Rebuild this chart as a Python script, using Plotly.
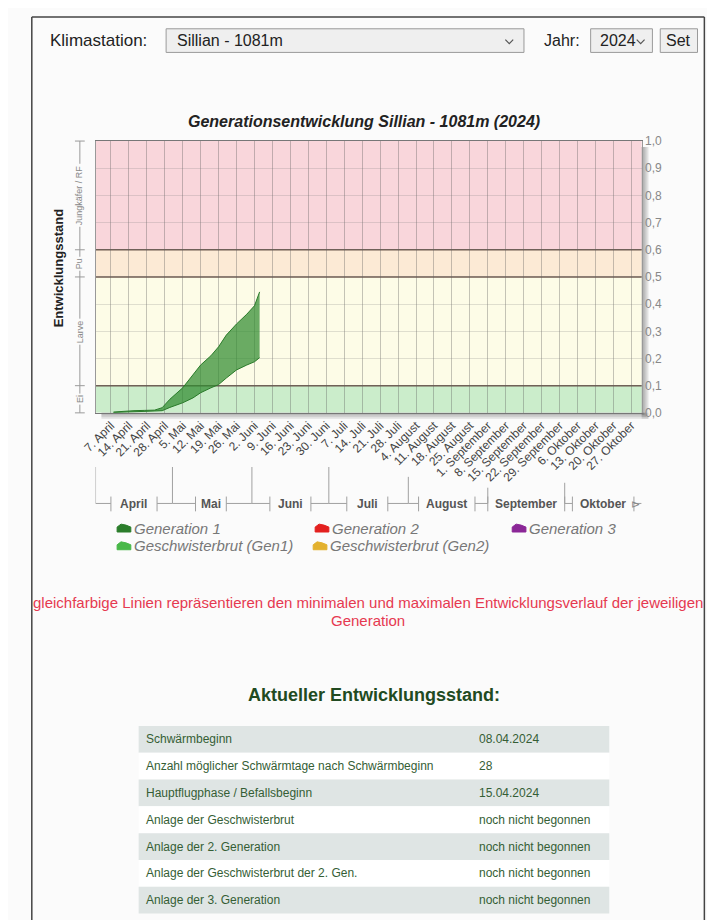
import plotly.graph_objects as go
from datetime import date, timedelta

# ---------------- data ----------------
tick_dates = ['2024-04-07', '2024-04-14', '2024-04-21', '2024-04-28', '2024-05-05', '2024-05-12',
              '2024-05-19', '2024-05-26', '2024-06-02', '2024-06-09', '2024-06-16', '2024-06-23',
              '2024-06-30', '2024-07-07', '2024-07-14', '2024-07-21', '2024-07-28', '2024-08-04',
              '2024-08-11', '2024-08-18', '2024-08-25', '2024-09-01', '2024-09-08', '2024-09-15',
              '2024-09-22', '2024-09-29', '2024-10-06', '2024-10-13', '2024-10-20', '2024-10-27']
tick_labels = ['7. April', '14. April', '21. April', '28. April', '5. Mai', '12. Mai', '19. Mai',
               '26. Mai', '2. Juni', '9. Juni', '16. Juni', '23. Juni', '30. Juni', '7. Juli',
               '14. Juli', '21. Juli', '28. Juli', '4. August', '11. August', '18. August',
               '25. August', '1. September', '8. September', '15. September', '22. September',
               '29. September', '6. Oktober', '13. Oktober', '20. Oktober', '27. Oktober']
y_ticks = [0.0, 0.1, 0.2, 0.3, 0.4, 0.5, 0.6, 0.7, 0.8, 0.9, 1.0]
y_tick_labels = ['0,0', '0,1', '0,2', '0,3', '0,4', '0,5', '0,6', '0,7', '0,8', '0,9', '1,0']

months = ['April', 'Mai', 'Juni', 'Juli', 'August', 'September', 'Oktober']
month_starts = ['2024-04-01', '2024-05-01', '2024-06-01', '2024-07-01', '2024-08-01', '2024-09-01', '2024-10-01']
month_ends = ['2024-05-01', '2024-06-01', '2024-07-01', '2024-08-01', '2024-09-01', '2024-10-01', '2024-10-31']

gen1_dates = ['2024-04-08', '2024-04-12', '2024-04-16', '2024-04-20', '2024-04-24', '2024-04-27',
              '2024-04-30', '2024-05-05', '2024-05-09', '2024-05-12', '2024-05-16', '2024-05-19',
              '2024-05-22', '2024-05-26', '2024-05-30', '2024-06-02', '2024-06-04']
gen1_max = [0.003, 0.006, 0.008, 0.009, 0.010, 0.019, 0.050, 0.092, 0.140, 0.176, 0.210, 0.243,
            0.286, 0.327, 0.363, 0.394, 0.445]
gen1_min = [0.001, 0.002, 0.003, 0.004, 0.005, 0.008, 0.020, 0.037, 0.055, 0.074, 0.092, 0.104,
            0.128, 0.158, 0.176, 0.188, 0.203]

stages = ['Ei', 'Larve', 'Pu', 'Jungkäfer / RF']
stage_bounds = [0.0, 0.1, 0.5, 0.6, 1.0]
stage_colors = ['#cbedcb', '#fdfce7', '#fcead5', '#f9d6db']

legend_names = ['Generation 1', 'Generation 2', 'Generation 3', 'Geschwisterbrut (Gen1)', 'Geschwisterbrut (Gen2)']
legend_colors = ['#2b7d2b', '#e3201f', '#8b2797', '#48b848', '#e3b12e']

table_labels = ['Schwärmbeginn', 'Anzahl möglicher Schwärmtage nach Schwärmbeginn',
                'Hauptflugphase / Befallsbeginn', 'Anlage der Geschwisterbrut',
                'Anlage der 2. Generation', 'Anlage der Geschwisterbrut der 2. Gen.',
                'Anlage der 3. Generation']
table_values = ['08.04.2024', '28', '15.04.2024', 'noch nicht begonnen', 'noch nicht begonnen',
                'noch nicht begonnen', 'noch nicht begonnen']

# ---------------- helpers ----------------
OFF = 8                      # default body margin of the html page
W, H = 715, 920
PL, PR, PT, PB = 83, 640, 136, 412   # plot area in window pixels
FONT = 'Arial, Liberation Sans, sans-serif'
BG = '#fbfbfb'


def X(x):
    return (x - OFF) / W


def Y(y):
    return 1 - (y - OFF) / H


shapes = []
annotations = []


def text(x, y, s, size=12, color='#222', xanchor='left', yanchor='middle', angle=0, **kw):
    annotations.append(dict(x=X(x), y=Y(y), xref='paper', yref='paper', text=s, showarrow=False,
                            xanchor=xanchor, yanchor=yanchor, textangle=angle,
                            font=dict(size=size, color=color, family=FONT), **kw))


def rect(x0, y0, x1, y1, fill, line=None, lw=1, layer='above'):
    shapes.append(dict(type='rect', xref='paper', yref='paper', x0=X(x0), x1=X(x1), y0=Y(y0), y1=Y(y1),
                       fillcolor=fill, line=dict(color=line or 'rgba(0,0,0,0)', width=lw if line else 0),
                       layer=layer))


def line(x0, y0, x1, y1, color='#999', lw=1):
    shapes.append(dict(type='line', xref='paper', yref='paper', x0=X(x0), x1=X(x1), y0=Y(y0), y1=Y(y1),
                       line=dict(color=color, width=lw)))


def chevron(cx, cy, color='#555'):
    shapes.append(dict(type='path', xref='paper', yref='paper',
                       path=f'M {X(cx-4)} {Y(cy-2)} L {X(cx)} {Y(cy+2)} L {X(cx+4)} {Y(cy-2)}',
                       line=dict(color=color, width=1.2)))


# ---------------- figure ----------------
fig = go.Figure()
fig.add_trace(go.Scatter(x=gen1_dates, y=gen1_min, mode='lines', line=dict(color='#2a7a2a', width=1),
                         hoverinfo='skip', showlegend=False))
fig.add_trace(go.Scatter(x=gen1_dates, y=gen1_max, mode='lines', line=dict(color='#2a7a2a', width=1),
                         fill='tonexty', fillcolor='rgba(48,140,48,0.72)', hoverinfo='skip', showlegend=False))

# stage bands
for i in range(4):
    shapes.append(dict(type='rect', xref='x domain', yref='y', x0=0, x1=1, y0=stage_bounds[i],
                       y1=stage_bounds[i + 1], fillcolor=stage_colors[i], line=dict(width=0), layer='below'))
for b in stage_bounds[1:4]:
    shapes.append(dict(type='line', xref='x domain', yref='y', x0=0, x1=1, y0=b, y1=b,
                       line=dict(color='#6f5b50', width=1.5), layer='below'))

# plot drop shadow
for k in range(3):
    d = 2 * (k + 1)
    rect(PR, PT + 6, PR + d + 1, PB + d, 'rgba(0,0,0,0.10)', layer='below')
    rect(PL + 6, PB, PR + d + 1, PB + d, 'rgba(0,0,0,0.10)', layer='below')

# page frame
line(18, 10, 704, 10, '#444', 1.5)
line(18, 10, 18, 928, '#444', 1.5)
line(704, 10, 704, 928, '#444', 1.5)

# header controls
text(35, 34, 'Klimastation:', 17, '#222')
rect(155, 22, 520, 46, '#efefef', '#9a9a9a', 1)
text(164, 34, 'Sillian - 1081m', 16, '#222')
chevron(505, 35)
text(538, 34, 'Jahr:', 16, '#222')
rect(588, 22, 651, 46, '#efefef', '#9a9a9a', 1)
text(595, 34, '2024', 16, '#222')
chevron(639, 35)
rect(659, 22, 697, 46, '#efefef', '#9a9a9a', 1)
text(678, 34, 'Set', 16, '#222', xanchor='center')

# chart title
text(357, 116, '<b><i>Generationsentwicklung Sillian - 1081m (2024)</i></b>', 16, '#222', xanchor='center')

# left axis title and stage brackets
text(45, 265, '<b>Entwicklungsstand</b>', 13, '#222', xanchor='center', angle=-90)
line(67, PT, 67, PB, '#9a9a9a', 1)
for b in stage_bounds:
    yy = PB - b * (PB - PT)
    line(62, yy, 72, yy, '#9a9a9a', 1)
for i, s in enumerate(stages):
    yc = PB - (stage_bounds[i] + stage_bounds[i + 1]) / 2 * (PB - PT)
    text(67, yc, s, 9, '#888', xanchor='center', angle=-90, bgcolor=BG)

# month bracket axis
mtops = [467, 467, 467, 467, 477, 488, 483]
HY = 504
for i, m in enumerate(months):
    ds = date.fromisoformat(month_starts[i])
    de = date.fromisoformat(month_ends[i])
    mid = ds + (de - ds) / 2
    half_days = (len(m) * 3.9 + 6) / 2.615
    lt = mid - timedelta(days=half_days)
    rt = mid + timedelta(days=half_days)
    shapes.append(dict(type='line', xref='x', yref='paper', x0=month_starts[i], x1=month_starts[i],
                       y0=Y(mtops[i]), y1=Y(HY), line=dict(color='#a0a0a0', width=1)))
    shapes.append(dict(type='line', xref='x', yref='paper', x0=month_starts[i], x1=lt.isoformat(),
                       y0=Y(HY), y1=Y(HY), line=dict(color='#a0a0a0', width=1)))
    shapes.append(dict(type='line', xref='x', yref='paper', x0=rt.isoformat(), x1=month_ends[i],
                       y0=Y(HY), y1=Y(HY), line=dict(color='#a0a0a0', width=1)))
    for t in (lt, rt):
        shapes.append(dict(type='line', xref='x', yref='paper', x0=t.isoformat(), x1=t.isoformat(),
                           y0=Y(497), y1=Y(512), line=dict(color='#a0a0a0', width=1)))
    annotations.append(dict(x=mid.isoformat(), y=Y(505), xref='x', yref='paper', text=f'<b>{m}</b>',
                            showarrow=False, xanchor='center', yanchor='middle',
                            font=dict(size=12, color='#555', family=FONT)))
text(634, 505, '⊳', 11, '#888', xanchor='center')

# legend
leg_pos = [(105, 528), (307, 528), (508, 528), (105, 546), (305, 546)]
for (lx, ly), name, col in zip(leg_pos, legend_names, legend_colors):
    p = (f'M {X(lx)} {Y(ly+5)} L {X(lx)} {Y(ly)} L {X(lx+4)} {Y(ly-3)} L {X(lx+9)} {Y(ly-2)} '
         f'L {X(lx+14)} {Y(ly)} L {X(lx+14)} {Y(ly+5)} Z')
    shapes.append(dict(type='path', xref='paper', yref='paper', path=p, fillcolor=col,
                       line=dict(color=col, width=1)))
    text(lx + 15, ly + 1, f'<i>{name}</i>', 15, '#777')

# note
text(361, 605, 'gleichfarbige Linien repräsentieren den minimalen und maximalen Entwicklungsverlauf der jeweiligen',
     15, '#e63950', xanchor='center')
text(361, 623, 'Generation', 15, '#e63950', xanchor='center')

# status table
text(367, 698, '<b>Aktueller Entwicklungsstand:</b>', 18, '#214a21', xanchor='center')
RH = 27.2
for i, (lab, val) in enumerate(zip(table_labels, table_values)):
    y0 = 730 + i * RH
    rect(127, y0, 607, y0 + RH, '#dfe5e4' if i % 2 == 0 else '#ffffff', layer='below')
    text(132, y0 + RH / 2, lab, 12, '#355e35')
    text(472, y0 + RH / 2, val, 12, '#355e35')

fig.update_layout(
    width=W, height=H, autosize=False,
    margin=dict(l=0, r=0, t=0, b=0),
    paper_bgcolor=BG, plot_bgcolor='rgba(0,0,0,0)',
    showlegend=False,
    font=dict(family=FONT),
    xaxis=dict(domain=[X(PL), X(PR)], type='date', range=['2024-04-01', '2024-10-31'],
               tickmode='array', tickvals=tick_dates, ticktext=tick_labels, tickangle=-45,
               tickfont=dict(size=12, color='#444'), showgrid=True, gridcolor='rgba(90,90,90,0.35)',
               gridwidth=1, showline=True, linecolor='#777', linewidth=1, mirror=True, ticks='',
               zeroline=False, fixedrange=True),
    yaxis=dict(domain=[Y(PB), Y(PT)], range=[0, 1], side='right', tickmode='array',
               tickvals=y_ticks, ticktext=y_tick_labels, tickfont=dict(size=12, color='#888'),
               showgrid=True, gridcolor='rgba(120,120,120,0.22)', showline=True, linecolor='#999',
               mirror=True, ticks='', zeroline=False, fixedrange=True),
    shapes=shapes, annotations=annotations,
)

fig.write_html('out.html')
